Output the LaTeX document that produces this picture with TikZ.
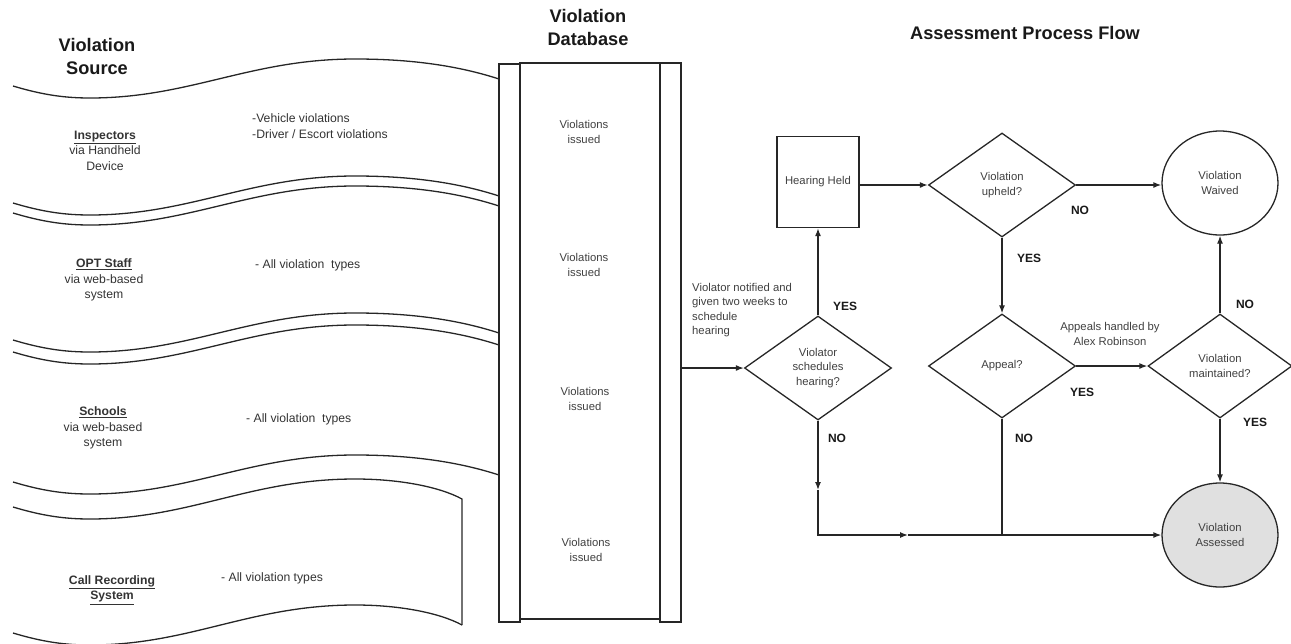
\documentclass[tikz,border=0pt]{standalone}
\usepackage{fontspec}
\setmainfont{Liberation Sans}
\usetikzlibrary{shapes.geometric,arrows.meta,calc}
\newcommand\wavefull[1]{(13,#1) .. controls (43,{#1+9}) and (65,{#1+12}) .. (90,{#1+12}) .. controls (190,{#1+12}) and (250,{#1-27}) .. (355,{#1-27}) .. controls (420,{#1-27}) and (465,{#1-18}) .. (499,{#1-7})}
\newcommand\waveshort[1]{(13,#1) .. controls (43,{#1+9}) and (65,{#1+12}) .. (90,{#1+12}) .. controls (190,{#1+12}) and (250,{#1-28}) .. (355,{#1-28}) .. controls (400,{#1-28}) and (440,{#1-20}) .. (462,{#1-8})}
\begin{document}
\begin{tikzpicture}[x=1pt,y=-1pt,
  every node/.style={inner sep=0pt, align=center},
  ln/.style={line width=1.3pt, draw=black!85},
  arr/.style={ln, -{Latex[length=8pt,width=6pt]}},
  ttl/.style={font=\fontsize{18.2}{23}\selectfont\bfseries, text=black!90},
  src/.style={font=\fontsize{12.2}{15.5}\selectfont, text=black!80},
  txt/.style={font=\fontsize{11.3}{14.2}\selectfont, text=black!75},
  lab/.style={font=\fontsize{12}{14}\selectfont\bfseries, text=black!90},
  dia/.style={diamond, draw=black!85, line width=1.3pt, minimum width=147pt, minimum height=104pt, font=\fontsize{11.3}{14.2}\selectfont, text=black!75},
  ell/.style={ellipse, draw=black!85, line width=1.3pt, minimum width=116pt, minimum height=104pt, font=\fontsize{11.3}{14.2}\selectfont, text=black!75},
  bar/.style={draw=black!85, line width=1.3pt}
]
\clip (0,0) rectangle (1291,643);
\useasboundingbox (0,0) rectangle (1291,643);

% titles
\node[ttl] (t1) at (97,56) {Violation\\Source};
\node[ttl] (t2) at (588,27) {Violation\\Database};
\node[ttl] (t3) at (1025,33) {Assessment Process Flow};

% source banners
\draw[bar] \wavefull{86};
\draw[bar] \wavefull{203};
\draw[bar] \wavefull{213};
\draw[bar] \wavefull{340};
\draw[bar] \wavefull{352};
\draw[bar] \wavefull{482};
\draw[bar] \waveshort{507} -- (462,{633-8});
\draw[bar] \waveshort{633};

\node[src] (s1) at (105,150.5) {\textbf{\underline{Inspectors}}\\via Handheld\\Device};
\node[src, align=left, anchor=west] (d1) at (252,126) {-Vehicle violations\\-Driver / Escort violations};
\node[src] (s2) at (104,280) {\textbf{\underline{OPT Staff}}\\via web-based\\system};
\node[src, anchor=west] (d2) at (255,265) {- All violation\ \ types};
\node[src] (s3) at (103,428) {\textbf{\underline{Schools}}\\via web-based\\system};
\node[src, anchor=west] (d3) at (246,419) {- All violation\ \ types};
\node[src] (s4) at (112,590) {\textbf{\underline{Call Recording}}\\\textbf{\underline{System}}};
\node[src, anchor=west] (d4) at (221,578) {- All violation types};

% database
\node[minimum width=182pt, minimum height=559pt] (db) at (590,342.5) {};
\draw[bar] (499,64) rectangle (520,622);
\draw[bar] (660,63) rectangle (681,622);
\draw[bar] (520,63) rectangle (660,619);
\node[txt] (v1) at (584,132) {Violations\\issued};
\node[txt] (v2) at (584,265) {Violations\\issued};
\node[txt] (v3) at (585,399) {Violations\\issued};
\node[txt] (v4) at (586,550) {Violations\\issued};

% flow nodes
\node[dia] (sched) at (818,368) {Violator\\schedules\\hearing?};
\node[draw=black!85, line width=1.3pt, minimum width=82pt, minimum height=91pt, font=\fontsize{11.3}{14.2}\selectfont, text=black!75] (box) at (818,182) {Hearing Held};
\node[dia] (upheld) at (1002,185) {Violation\\upheld?};
\node[ell] (waived) at (1220,183) {Violation\\Waived};
\node[dia] (appeal) at (1002,366) {Appeal?};
\node[dia, minimum width=144pt] (maint) at (1220,366) {Violation\\maintained?};
\node[ell, fill=black!12] (assessed) at (1220,535) {Violation\\Assessed};

\coordinate (m1) at (818,490);
\coordinate (corner) at (818,535);
\coordinate (m2) at (908,535);

% connectors
\draw[arr] (db.east |- sched.west) -- (sched.west);
\draw[arr] (sched.north) -- (box.south);
\draw[arr] (box.east |- upheld.west) -- (upheld.west);
\draw[arr] (upheld.east) -- (upheld.east -| waived.west);
\draw[arr] (upheld.south) -- (appeal.north);
\draw[arr] (appeal.east) -- (maint.west);
\draw[arr] (maint.north) -- (waived.south);
\draw[arr] (maint.south) -- (assessed.north);
\draw[arr] (sched.south) -- (m1);
\draw[arr] (m1) -- (corner) -- (m2);
\draw[arr] (m2) -- (m2 -| assessed.west);
\draw[ln] (appeal.south) -- (appeal.south |- m2);

% labels
\node[txt, align=left, anchor=west] (note) at (692,310) {Violator notified and\\given two weeks to\\schedule\\hearing};
\node[txt] (note2) at (1110,334) {Appeals handled by\\Alex Robinson};
\node[lab] (y1) at (845,306) {YES};
\node[lab] (n1) at (837,438) {NO};
\node[lab] (n2) at (1080,210) {NO};
\node[lab] (y2) at (1029,258) {YES};
\node[lab] (y3) at (1082,392) {YES};
\node[lab] (n3) at (1024,438) {NO};
\node[lab] (n4) at (1245,304) {NO};
\node[lab] (y4) at (1255,422) {YES};
\end{tikzpicture}
\end{document}
